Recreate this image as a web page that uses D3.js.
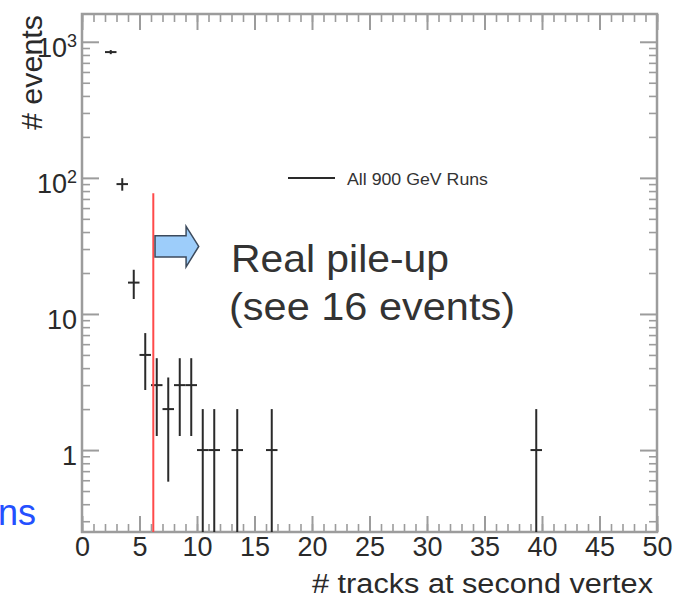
<!DOCTYPE html>
<html>
<head>
<meta charset="utf-8">
<script src="https://cdn.jsdelivr.net/npm/d3@7"></script>
<style>
body { margin: 0; background: #fff; }
svg { font-family: "Liberation Sans", Arial, sans-serif; }
</style>
</head>
<body>
<div id="chart"></div>
<script>
// histogram: # tracks at second vertex (bin centres, bin width 1)
var binCenters = [2.5, 3.5, 4.5, 5.5, 6.5, 7.5, 8.5, 9.5, 10.5, 11.5, 13.5, 16.5, 39.5];
var counts = [840, 90, 17, 5, 3, 2, 3, 3, 1, 1, 1, 1, 1];
var binWidth = 1;

var xTicks = [0, 5, 10, 15, 20, 25, 30, 35, 40, 45, 50];
var yTicks = [1, 10, 100, 1000];
var yTickLabels = [["1", ""], ["10", ""], ["10", "2"], ["10", "3"]];

// cut line and arrow (data units)
var cutX = 6.2, cutTop = 77;
var arrowXs = [6.35, 9.05, 10.15];        // tail, head base, tip
var arrowYs = [44, 37.5, 26.2, 22.2];     // head top, body top, body bottom, head bottom

var width = 675,
    height = 600,
    fLeft = 82, fTop = 14, fRight = 657, fBottom = 532,
    frameColor = "#9c9c9c",
    inkColor = "#2a2a2a";

var svg = d3.select("#chart").append("svg")
    .attr("width", width)
    .attr("height", height);

var x = d3.scaleLinear().domain([0, 50]).range([fLeft, fRight]);
var y = d3.scaleLog().domain([0.25, 1600]).range([fBottom, fTop]);

var minorX = d3.range(0, 51, 1);
var minorY = [];
[0.1, 1, 10, 100, 1000].forEach(function (d) {
    for (var k = 2; k <= 9; k++) {
        var v = d * k;
        if (v > 0.25 && v < 1600) minorY.push(v);
    }
});

function styleAxis(g, w) {
    g.select(".domain").remove();
    g.selectAll("line").attr("stroke", frameColor).attr("stroke-width", w);
}

// minor ticks
svg.append("g").attr("transform", "translate(0," + fBottom + ")")
    .call(d3.axisBottom(x).tickValues(minorX).tickSizeInner(-8).tickFormat(""))
    .call(styleAxis, 1.6);
svg.append("g").attr("transform", "translate(0," + fTop + ")")
    .call(d3.axisTop(x).tickValues(minorX).tickSizeInner(-8).tickFormat(""))
    .call(styleAxis, 1.6);
svg.append("g").attr("transform", "translate(" + fLeft + ",0)")
    .call(d3.axisLeft(y).tickValues(minorY).tickSizeInner(-8).tickFormat(""))
    .call(styleAxis, 1.6);
svg.append("g").attr("transform", "translate(" + fRight + ",0)")
    .call(d3.axisRight(y).tickValues(minorY).tickSizeInner(-8).tickFormat(""))
    .call(styleAxis, 1.6);

// major ticks
var xAxis = svg.append("g").attr("transform", "translate(0," + fBottom + ")")
    .call(d3.axisBottom(x).tickValues(xTicks).tickSizeInner(-16).tickPadding(5))
    .call(styleAxis, 2);
xAxis.selectAll("text")
    .attr("fill", inkColor)
    .style("font-size", "27px");

svg.append("g").attr("transform", "translate(0," + fTop + ")")
    .call(d3.axisTop(x).tickValues(xTicks).tickSizeInner(-16).tickFormat(""))
    .call(styleAxis, 2);

var yAxis = svg.append("g").attr("transform", "translate(" + fLeft + ",0)")
    .call(d3.axisLeft(y).tickValues(yTicks).tickSizeInner(-17).tickPadding(5).tickFormat(""))
    .call(styleAxis, 2);
yAxis.selectAll("text")
    .attr("fill", inkColor)
    .attr("dy", "0.55em")
    .style("font-size", "27px")
    .each(function (d, i) {
        var t = d3.select(this);
        t.append("tspan").text(yTickLabels[i][0]);
        if (yTickLabels[i][1]) {
            t.append("tspan").attr("dy", "-10").style("font-size", "18px").text(yTickLabels[i][1]);
        }
    });

svg.append("g").attr("transform", "translate(" + fRight + ",0)")
    .call(d3.axisRight(y).tickValues(yTicks).tickSizeInner(-17).tickFormat(""))
    .call(styleAxis, 2);

// frame
svg.append("rect")
    .attr("x", fLeft).attr("y", fTop)
    .attr("width", fRight - fLeft).attr("height", fBottom - fTop)
    .attr("fill", "none")
    .attr("stroke", frameColor)
    .attr("stroke-width", 2.5);

svg.append("clipPath").attr("id", "frameClip")
    .append("rect")
    .attr("x", fLeft).attr("y", fTop)
    .attr("width", fRight - fLeft).attr("height", fBottom - fTop);

var plot = svg.append("g").attr("clip-path", "url(#frameClip)");

var points = binCenters.map(function (c, i) { return { x: c, n: counts[i] }; });

// vertical error bars (sqrt N)
plot.selectAll(".err")
    .data(points)
    .enter().append("line")
    .attr("class", "err")
    .attr("x1", function (d) { return x(d.x); })
    .attr("x2", function (d) { return x(d.x); })
    .attr("y1", function (d) { return y(Math.max(0.2, d.n - Math.sqrt(d.n))); })
    .attr("y2", function (d) { return y(d.n + Math.sqrt(d.n)); })
    .attr("stroke", inkColor)
    .attr("stroke-width", 2);

// horizontal bin-width bars
plot.selectAll(".bin")
    .data(points)
    .enter().append("line")
    .attr("class", "bin")
    .attr("x1", function (d) { return x(d.x - binWidth / 2); })
    .attr("x2", function (d) { return x(d.x + binWidth / 2); })
    .attr("y1", function (d) { return y(d.n); })
    .attr("y2", function (d) { return y(d.n); })
    .attr("stroke", inkColor)
    .attr("stroke-width", 2);

// red cut line
plot.append("line")
    .attr("x1", x(cutX)).attr("x2", x(cutX))
    .attr("y1", y(0.25)).attr("y2", y(cutTop))
    .attr("stroke", "#ff4a4a")
    .attr("stroke-width", 2);

// blue arrow
var arrowPts = [
    [arrowXs[0], arrowYs[1]],
    [arrowXs[1], arrowYs[1]],
    [arrowXs[1], arrowYs[0]],
    [arrowXs[2], Math.sqrt(arrowYs[1] * arrowYs[2])],
    [arrowXs[1], arrowYs[3]],
    [arrowXs[1], arrowYs[2]],
    [arrowXs[0], arrowYs[2]]
];
svg.append("polygon")
    .attr("points", arrowPts.map(function (p) { return x(p[0]) + "," + y(p[1]); }).join(" "))
    .attr("fill", "#9dcdfa")
    .attr("stroke", "#3c4a5c")
    .attr("stroke-width", 1.5);

// legend
svg.append("line")
    .attr("x1", 288).attr("x2", 335)
    .attr("y1", 178).attr("y2", 178)
    .attr("stroke", inkColor)
    .attr("stroke-width", 2);
svg.append("text")
    .attr("x", 347).attr("y", 185)
    .attr("fill", "#333")
    .style("font-size", "17px")
    .attr("textLength", 141)
    .attr("lengthAdjust", "spacingAndGlyphs")
    .text("All 900 GeV Runs");

// annotation
svg.append("text")
    .attr("x", 231).attr("y", 272)
    .attr("fill", "#333")
    .style("font-size", "39px")
    .attr("textLength", 218)
    .attr("lengthAdjust", "spacingAndGlyphs")
    .text("Real pile-up");
svg.append("text")
    .attr("x", 229).attr("y", 320)
    .attr("fill", "#333")
    .style("font-size", "39px")
    .attr("textLength", 286)
    .attr("lengthAdjust", "spacingAndGlyphs")
    .text("(see 16 events)");

// axis titles
svg.append("text")
    .attr("x", 653).attr("y", 593)
    .attr("text-anchor", "end")
    .attr("fill", inkColor)
    .style("font-size", "27px")
    .attr("textLength", 341)
    .attr("lengthAdjust", "spacingAndGlyphs")
    .text("# tracks at second vertex");

svg.append("text")
    .attr("transform", "translate(42,15) rotate(-90)")
    .attr("text-anchor", "end")
    .attr("fill", inkColor)
    .style("font-size", "29px")
    .attr("textLength", 115)
    .attr("lengthAdjust", "spacingAndGlyphs")
    .text("# events");

// clipped slide text at the left edge
svg.append("text")
    .attr("x", 36).attr("y", 525)
    .attr("text-anchor", "end")
    .attr("fill", "#2450ff")
    .style("font-size", "36px")
    .text("ns");
</script>
</body>
</html>
